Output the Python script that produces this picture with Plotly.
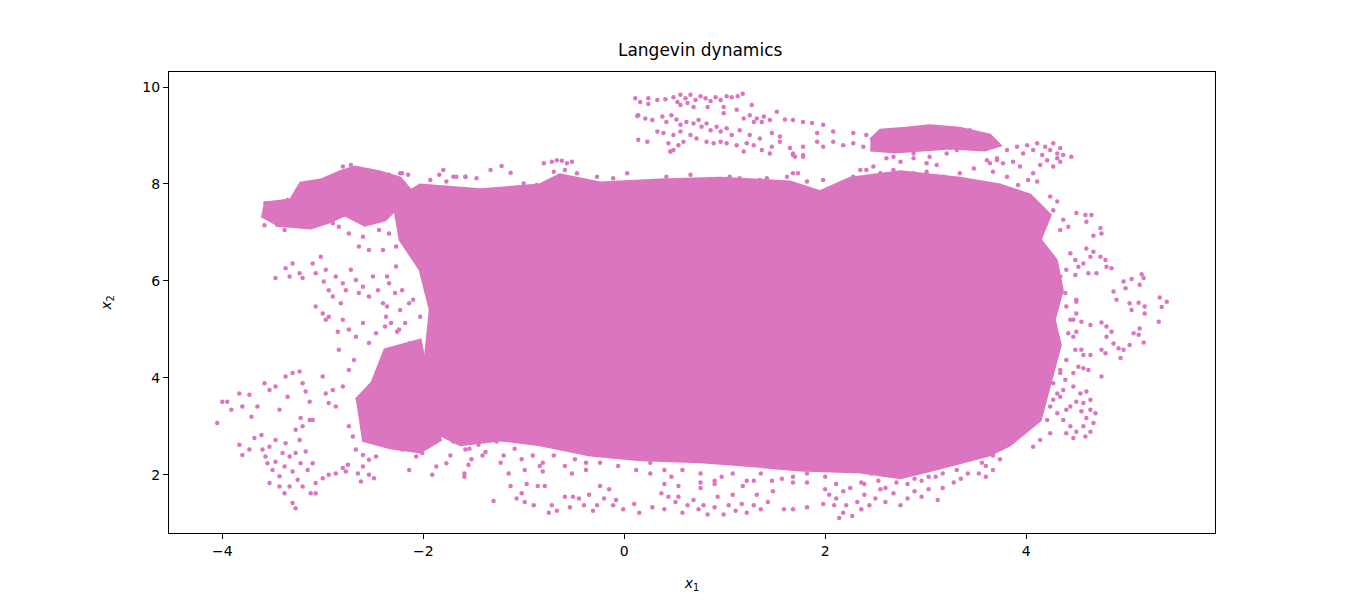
import plotly.graph_objects as go

PINK = '#db75bf'

# dense core of the trajectory (outline of the solid region)
core_x = [-2.28, -2.03, -1.43, -0.84, -0.64, -0.24, 0.36, 0.96, 1.65, 1.95, 2.25, 2.75, 3.34, 3.74, 4.04,
          4.24, 4.14, 4.30, 4.36, 4.28, 4.34, 4.25, 4.14, 3.84, 3.64, 3.14, 2.75, 2.35, 1.75, 1.25, 0.76,
          0.16, -0.34, -0.84, -1.23, -1.63, -1.93, -2.13, -1.98, -1.93, -2.03, -2.23, -2.28]
core_y = [7.67, 7.98, 7.88, 7.98, 8.19, 8.02, 8.08, 8.12, 8.04, 7.84, 8.12, 8.25, 8.12, 7.98, 7.77,
          7.36, 6.85, 6.43, 5.81, 5.20, 4.68, 3.96, 3.13, 2.62, 2.41, 2.14, 1.94, 2.06, 2.10, 2.19, 2.27,
          2.31, 2.41, 2.62, 2.72, 2.62, 2.93, 3.55, 4.37, 5.40, 6.23, 6.85, 7.46]

# upper left arm
arm_x = [-3.60, -3.57, -3.32, -3.22, -3.02, -2.83, -2.68, -2.43, -2.23, -2.13, -2.23, -2.38, -2.58,
         -2.78, -2.93, -3.12, -3.32, -3.47]
arm_y = [7.30, 7.61, 7.67, 8.02, 8.08, 8.25, 8.35, 8.25, 8.12, 7.88, 7.57, 7.26, 7.15,
         7.36, 7.22, 7.09, 7.13, 7.15]

# lower left lobe
lobe_x = [-2.67, -2.51, -2.38, -2.03, -1.83, -2.03, -2.33, -2.61]
lobe_y = [3.55, 3.90, 4.58, 4.78, 2.72, 2.47, 2.56, 2.72]

# band near x2 = 9
band_x = [2.45, 2.55, 2.80, 3.04, 3.34, 3.64, 3.74, 3.59, 3.24, 2.95, 2.70, 2.45]
band_y = [8.91, 9.11, 9.15, 9.20, 9.15, 9.01, 8.80, 8.70, 8.74, 8.70, 8.66, 8.70]

# sparse samples, by region
left_dots = [
    (-4.05, 3.07), (-4.00, 3.51), (-3.95, 3.51), (-3.91, 3.34), (-3.83, 3.68), (-3.80, 3.41), (-3.73, 3.65),
    (-3.71, 3.20), (-3.65, 3.41), (-3.58, 3.89), (-3.53, 3.75), (-3.47, 3.82), (-3.43, 3.34), (-3.37, 4.03),
    (-3.35, 3.61), (-3.30, 4.10), (-3.23, 4.13), (-3.20, 3.89), (-3.17, 3.72), (-3.13, 3.51), (-3.10, 3.13),
    (-3.22, 3.17), (-3.00, 4.03), (-2.97, 3.68), (-2.94, 3.48), (-2.90, 3.75), (-2.87, 3.41), (-2.80, 3.82),
    (-2.84, 4.58), (-2.74, 4.16), (-2.69, 4.37), (-3.27, 2.93), (-3.20, 3.00), (-3.23, 2.72), (-3.13, 3.13),
    (-2.36, 6.09), (-2.28, 5.75), (-2.36, 5.47), (-2.23, 5.40), (-2.38, 5.06), (-2.26, 4.95), (-2.33, 4.58),
    (-2.18, 5.13), (-2.13, 4.72), (-2.10, 5.61), (-2.03, 5.26), (-2.40, 4.03), (-2.30, 3.89),
]
bottom_left_dots = [
    (-3.83, 2.62), (-3.80, 2.41), (-3.73, 2.52), (-3.68, 2.76), (-3.61, 2.82), (-3.60, 2.52), (-3.57, 2.38),
    (-3.55, 2.24), (-3.53, 2.58), (-3.50, 2.10), (-3.47, 2.72), (-3.47, 2.27), (-3.43, 1.97), (-3.40, 2.45),
    (-3.38, 2.17), (-3.37, 2.65), (-3.33, 2.38), (-3.30, 2.07), (-3.27, 2.45), (-3.25, 1.90), (-3.22, 2.24),
    (-3.20, 1.76), (-3.17, 2.48), (-3.15, 2.10), (-3.10, 2.24), (-3.07, 1.83), (-3.38, 1.62), (-3.30, 1.42),
    (-3.27, 1.31), (-3.53, 1.83), (-3.43, 1.76), (-3.33, 1.76), (-3.12, 1.62), (-3.07, 1.62), (-3.00, 1.93),
    (-2.94, 2.00), (-2.87, 2.03), (-2.80, 2.14), (-2.75, 2.21), (-2.77, 2.07), (-2.65, 2.03), (-2.60, 2.17),
    (-2.54, 2.00), (-2.49, 1.93), (-2.62, 1.86), (-2.70, 2.79), (-2.67, 2.52), (-2.60, 2.41), (-2.54, 2.31),
    (-2.47, 2.38), (-2.74, 3.00), (-2.21, 2.52), (-2.07, 2.38), (-1.91, 2.00), (-1.87, 2.17), (-1.77, 2.24),
    (-1.59, 2.03), (-1.58, 2.52), (-2.01, 2.45), (-2.14, 2.10),
]
mid_left_dots = [
    (-3.47, 6.06), (-3.37, 6.26), (-3.33, 6.09), (-3.30, 6.36), (-3.23, 6.16), (-3.20, 6.06), (-3.10, 6.36),
    (-3.07, 6.16), (-3.02, 6.50), (-2.99, 5.99), (-2.97, 6.23), (-2.94, 5.81), (-2.90, 5.68), (-2.87, 6.09),
    (-2.82, 5.54), (-2.80, 5.95), (-2.77, 5.81), (-2.72, 6.23), (-2.67, 6.02), (-2.64, 5.75), (-2.60, 5.88),
    (-2.54, 5.68), (-2.50, 6.09), (-2.45, 5.81), (-2.40, 5.54), (-2.80, 5.20), (-2.74, 5.00), (-2.85, 4.95),
    (-2.67, 4.85), (-2.60, 5.13), (-2.54, 4.72), (-2.47, 4.92), (-2.37, 5.26), (-2.32, 5.13), (-2.24, 5.00),
    (-3.07, 5.47), (-3.00, 5.33), (-2.97, 5.20), (-2.94, 5.26), (-2.34, 5.95), (-2.27, 6.30), (-2.21, 5.81),
    (-2.14, 5.54), (-2.40, 6.64), (-2.54, 6.64), (-2.60, 6.91), (-2.74, 6.98), (-2.84, 7.12), (-2.90, 7.19),
    (-2.64, 6.71), (-2.44, 7.05), (-2.34, 6.98), (-2.21, 7.05), (-2.27, 6.71), (-2.14, 6.64), (-2.07, 6.98),
    (-2.80, 8.36), (-2.72, 8.39), (-2.50, 8.25), (-2.34, 8.19), (-2.21, 8.22), (-1.84, 8.19), (-1.77, 8.05),
    (-1.67, 8.15), (-1.58, 8.15), (-3.58, 7.15), (-3.57, 7.60), (-3.38, 7.05), (-3.35, 7.67), (-3.47, 7.33),
]
top_dots = [
    (-0.80, 8.43), (-0.72, 8.46), (-0.67, 8.49), (-0.62, 8.48), (-0.57, 8.43), (-0.52, 8.46), (-0.70, 8.25),
    (-0.59, 8.29), (-0.47, 8.22), (-1.22, 8.37), (-1.33, 8.29), (-1.13, 8.23), (-1.80, 8.29), (-1.58, 8.15),
    (-1.47, 8.12), (-2.23, 8.22), (-2.15, 8.19), (-1.70, 8.15), (-1.93, 8.08), (-1.00, 8.01), (-0.87, 7.98),
    (-0.27, 8.15), (-0.11, 8.12), (0.03, 8.22), (1.68, 8.22), (1.73, 8.22), (1.98, 8.08), (0.86, 8.05),
    (1.05, 8.15), (1.35, 8.08), (2.35, 8.29), (2.48, 8.36), (2.61, 8.53), (2.68, 8.56), (2.75, 8.46),
    (2.88, 8.53), (3.01, 8.43), (3.11, 8.39), (1.19, 8.67), (1.45, 8.63), (1.68, 8.63), (1.78, 8.60),
    (0.46, 8.67),
    (0.11, 9.77), (0.16, 9.69), (0.24, 9.77), (0.24, 9.65), (0.33, 9.73), (0.41, 9.75), (0.49, 9.79),
    (0.53, 9.69), (0.56, 9.84), (0.61, 9.77), (0.66, 9.84), (0.71, 9.73), (0.76, 9.81), (0.81, 9.77),
    (0.86, 9.71), (0.91, 9.79), (0.96, 9.73), (1.02, 9.81), (1.07, 9.79), (1.13, 9.81), (1.18, 9.86),
    (0.56, 9.63), (0.63, 9.67), (0.69, 9.59), (0.83, 9.59), (0.99, 9.59),
    (0.13, 9.40), (0.21, 9.35), (0.28, 9.32), (0.38, 9.39), (0.42, 9.28), (0.47, 9.42), (0.52, 9.33),
    (0.56, 9.22), (0.62, 9.28), (0.69, 9.25), (0.74, 9.32), (0.77, 9.18), (0.82, 9.25), (0.86, 9.11),
    (0.92, 9.18), (0.96, 9.08), (1.02, 9.15), (0.39, 9.05), (0.49, 9.01), (0.56, 9.08), (0.66, 9.01),
    (0.72, 8.94), (0.33, 9.08), (0.14, 8.91), (0.23, 8.87), (0.44, 8.84), (0.49, 8.70), (0.54, 8.80),
    (0.59, 8.87), (0.46, 8.67), (0.82, 8.87), (0.89, 8.84), (0.96, 8.87), (1.02, 8.84), (1.12, 8.80),
    (1.22, 8.84), (1.29, 8.80), (1.37, 8.70), (1.47, 8.77), (1.55, 8.87), (1.65, 8.74), (1.70, 8.56),
    (1.78, 8.77), (1.92, 8.87), (1.98, 8.77), (2.08, 8.87), (2.18, 8.80), (2.28, 8.84), (2.38, 8.77),
    (2.48, 8.87), (2.58, 8.74), (2.65, 8.84), (1.19, 9.35), (1.25, 9.42), (1.32, 9.35), (1.39, 9.39),
    (1.29, 9.28), (1.37, 9.28), (1.45, 9.32), (1.52, 9.49), (1.60, 9.33), (1.68, 9.32), (1.78, 9.28),
    (1.87, 9.26), (1.27, 9.63), (1.12, 9.53), (0.99, 9.46), (1.98, 9.22), (2.08, 9.08), (1.92, 9.05),
    (1.47, 9.05), (1.35, 8.94), (1.25, 9.01), (1.15, 9.11), (1.07, 9.01), (1.55, 8.98), (1.68, 8.60),
    (1.78, 8.56), (0.14, 9.42),
    (2.28, 9.05), (2.41, 9.01), (2.55, 8.94), (2.75, 9.08), (2.88, 8.63), (3.04, 8.56), (3.21, 8.63),
    (3.31, 8.70), (3.44, 9.11), (3.61, 8.49), (3.71, 8.53),
]
right_dots = [
    (3.81, 8.70), (3.91, 8.77), (3.97, 8.63), (4.01, 8.80), (4.07, 8.70), (4.11, 8.84), (4.16, 8.60),
    (4.19, 8.77), (4.24, 8.70), (4.27, 8.84), (4.31, 8.63), (4.34, 8.74), (4.37, 8.60), (4.45, 8.56),
    (4.21, 8.49), (4.14, 8.39), (4.07, 8.22), (4.02, 8.08), (3.94, 8.36), (3.87, 8.46), (3.77, 8.43),
    (3.71, 8.49), (3.64, 8.43), (3.67, 8.25), (3.81, 8.15), (3.92, 7.98), (4.11, 8.05), (4.31, 8.53),
    (4.34, 8.46), (4.27, 8.36),
    (4.50, 7.40), (4.59, 7.36), (4.65, 7.36), (4.60, 7.22), (4.74, 7.09), (4.67, 6.93), (4.75, 6.98),
    (4.60, 6.67), (4.67, 6.60), (4.64, 6.50), (4.74, 6.50), (4.79, 6.43), (4.80, 6.29), (4.85, 6.26),
    (4.70, 6.16), (4.62, 6.16), (4.57, 6.36), (4.52, 6.29), (4.49, 6.12), (4.97, 5.99), (5.05, 6.04),
    (5.15, 6.14), (5.17, 6.06), (5.13, 5.92), (4.99, 5.85), (4.87, 5.78), (4.90, 5.61), (5.03, 5.54),
    (5.12, 5.55), (5.05, 5.40), (5.18, 5.47), (5.18, 5.33), (5.32, 5.16), (5.33, 5.66), (5.40, 5.57),
    (5.35, 5.46), (4.50, 5.61), (4.55, 5.16), (4.64, 5.09), (4.75, 5.14), (4.80, 5.06), (4.85, 4.95),
    (4.80, 4.85), (4.87, 4.71), (4.92, 4.61), (4.97, 4.58), (4.94, 4.41), (5.03, 4.68), (5.07, 4.92),
    (5.12, 4.89), (5.13, 5.02), (5.17, 4.73), (4.75, 4.58), (4.79, 4.51), (4.57, 4.47), (4.64, 4.47),
    (4.75, 4.03), (4.52, 4.23), (4.57, 4.20), (4.62, 4.16), (4.50, 5.33), (4.44, 5.20), (4.50, 4.95),
    (4.55, 4.58), (4.47, 4.85),
    (4.37, 3.75), (4.47, 3.82), (4.54, 3.68), (4.60, 3.72), (4.64, 3.55), (4.57, 3.48), (4.50, 3.51),
    (4.44, 3.41), (4.55, 3.31), (4.64, 3.34), (4.69, 3.27), (4.60, 3.17), (4.67, 3.07), (4.57, 3.00),
    (4.64, 2.89), (4.50, 2.89), (4.59, 2.79), (4.44, 3.00), (4.37, 3.13), (4.40, 2.86), (4.47, 2.76),
    (4.31, 3.27), (4.27, 3.55), (4.34, 3.61), (4.39, 3.96), (4.34, 4.10), (4.47, 4.10), (4.40, 3.34),
]
bottom_dots = [
    (-1.59, 1.96), (-1.55, 2.21), (-1.30, 1.46), (-1.15, 2.03), (-1.13, 1.77), (-1.07, 1.51), (-1.02, 1.62),
    (-0.97, 1.81), (-0.99, 1.44), (-0.90, 1.37), (-0.86, 1.77), (-0.79, 1.77), (-0.81, 2.07), (-0.75, 1.22),
    (-0.72, 1.37), (-0.67, 1.26), (-0.59, 1.55), (-0.54, 1.33), (-0.51, 1.55), (-0.45, 1.51), (-0.40, 1.37),
    (-0.35, 1.59), (-0.31, 1.26), (-0.27, 1.37), (-0.24, 1.77), (-0.20, 1.51), (-0.15, 1.70), (-0.11, 1.37),
    (-0.08, 1.48), (-0.01, 1.29), (0.10, 1.40), (0.15, 1.22), (0.28, 1.33), (0.37, 1.62), (0.40, 1.29),
    (0.44, 1.55), (0.51, 1.44), (0.54, 1.55), (0.58, 1.22), (0.63, 1.37), (0.69, 1.48), (0.74, 1.29),
    (0.79, 1.37), (0.83, 1.18), (0.90, 1.33), (0.93, 1.55), (0.99, 1.18), (1.04, 1.37), (1.08, 1.59),
    (1.11, 1.26), (1.17, 1.40), (1.22, 1.22), (1.29, 1.37), (1.32, 1.59), (1.36, 1.29), (1.43, 1.44),
    (1.48, 1.66), (1.59, 1.29), (1.68, 1.29), (1.82, 1.33), (1.98, 1.40), (2.04, 1.59), (2.09, 1.37),
    (2.14, 1.11), (2.18, 1.22), (2.21, 1.37), (2.27, 1.15), (2.32, 1.44), (2.36, 1.29), (2.39, 1.59),
    (2.44, 1.37), (2.50, 1.51), (2.55, 1.70), (2.60, 1.44), (2.68, 1.62), (2.75, 1.37), (2.82, 1.51),
    (2.89, 1.66), (2.96, 1.55), (3.03, 1.70), (3.12, 1.48), (3.17, 1.73), (3.28, 1.84), (3.35, 1.92),
    (3.53, 2.03), (3.60, 1.96), (3.67, 2.10), (3.56, 2.25), (2.18, 1.66), (2.11, 1.51), (2.00, 1.70),
    (2.53, 1.88), (2.71, 1.84), (2.89, 1.92), (2.36, 1.84), (2.46, 2.03), (2.75, 2.03), (3.03, 1.96),
    (3.17, 2.03), (0.40, 1.81), (0.54, 1.77), (0.76, 1.73), (0.90, 1.81), (1.18, 1.77), (1.29, 1.88),
    (0.26, 2.03), (0.40, 2.10), (0.76, 2.03), (0.97, 1.96), (1.57, 1.92), (1.68, 1.84), (1.82, 2.03),
    (-0.52, 2.03), (-0.38, 2.10), (-0.99, 2.10), (-0.84, 2.18), (-1.41, 2.40), (-1.23, 2.25), (-1.52, 2.32),
    (-1.73, 2.40),
]
# samples along the ragged edge of the core
edge_dots = [
    (-1.70, 2.69), (-1.62, 2.84), (-1.54, 2.54), (-1.45, 2.62), (-1.38, 2.47), (-1.27, 2.69), (-1.20, 2.40),
    (-1.09, 2.54), (-1.02, 2.32), (-0.91, 2.40), (-0.81, 2.25), (-0.70, 2.40), (-0.59, 2.18), (-0.49, 2.32),
    (-0.38, 2.25), (-0.24, 2.25), (-0.06, 2.18), (0.12, 2.10), (0.26, 2.25), (0.47, 1.96), (0.58, 2.10),
    (0.76, 1.84), (0.90, 1.88), (1.08, 2.03), (1.22, 1.88), (1.36, 2.03), (1.47, 1.88), (1.68, 1.96),
    (1.82, 1.84), (2.00, 1.96), (2.11, 1.81), (2.25, 1.73), (2.39, 1.81), (2.60, 1.73), (2.82, 1.81),
    (2.96, 1.88), (3.10, 1.96), (3.31, 2.10), (3.42, 2.03), (3.60, 2.18), (3.74, 2.32), (3.67, 2.40),
    (0.42, 8.15), (0.56, 8.01), (0.66, 8.19), (0.79, 8.01), (0.96, 8.08), (1.15, 8.12), (1.25, 8.01),
    (1.42, 8.12), (1.52, 8.01), (1.62, 8.15), (1.82, 8.05), (2.15, 7.94), (2.28, 8.15), (2.41, 8.29),
    (2.55, 8.22), (2.68, 8.29), (2.88, 8.22), (3.01, 8.25), (3.18, 8.15), (3.34, 8.22), (3.48, 8.32),
    (4.24, 7.74), (4.31, 7.64), (4.27, 7.46), (4.37, 7.26), (4.42, 7.12), (4.34, 7.05), (4.44, 6.57),
    (4.49, 6.43), (4.40, 6.23), (4.34, 6.09), (4.39, 5.75), (4.50, 5.57), (4.40, 5.47), (4.47, 5.20),
    (4.42, 4.92), (4.49, 4.58), (4.40, 4.37), (4.34, 4.16), (4.27, 3.89), (4.31, 3.68), (4.24, 3.41),
    (4.21, 3.13), (4.24, 2.86), (4.14, 2.72), (4.07, 2.58),
]

fig = go.Figure()

# filled areas where the samples overlap completely
for px, py in [(core_x, core_y), (arm_x, arm_y), (lobe_x, lobe_y), (band_x, band_y)]:
    fig.add_trace(go.Scatter(x=px, y=py, mode='lines', fill='toself', fillcolor=PINK,
                             line=dict(color=PINK, width=3), hoverinfo='skip', showlegend=False))

for pts in [left_dots, bottom_left_dots, mid_left_dots, top_dots, right_dots, bottom_dots, edge_dots]:
    fig.add_trace(go.Scatter(x=[p[0] for p in pts], y=[p[1] for p in pts], mode='markers',
                             marker=dict(color=PINK, size=4.5, line=dict(width=0)), showlegend=False))

axis_style = dict(showline=True, linecolor='black', linewidth=1, mirror=True, ticks='outside',
                  ticklen=5, tickwidth=1, tickcolor='black', showgrid=False, zeroline=False,
                  tickfont=dict(family='DejaVu Sans', size=14, color='black'))

fig.update_xaxes(range=[-4.53, 5.88], tickvals=[-4, -2, 0, 2, 4],
                 title=dict(text='<i>x</i><sub>1</sub>', font=dict(family='DejaVu Sans', size=14, color='black'),
                            standoff=20), **axis_style)
fig.update_yaxes(range=[0.80, 10.31], tickvals=[2, 4, 6, 8, 10],
                 title=dict(text='<i>x</i><sub>2</sub>', font=dict(family='DejaVu Sans', size=14, color='black'),
                            standoff=27), **axis_style)
fig.update_layout(
    width=1350, height=600,
    margin=dict(l=161, r=143, t=64, b=75),
    plot_bgcolor='white', paper_bgcolor='white',
    title=dict(text='Langevin dynamics', x=0.5127, xanchor='center', y=0.93, yanchor='middle',
               font=dict(family='DejaVu Sans', size=17, color='black')),
)

fig.write_html("out.html")
